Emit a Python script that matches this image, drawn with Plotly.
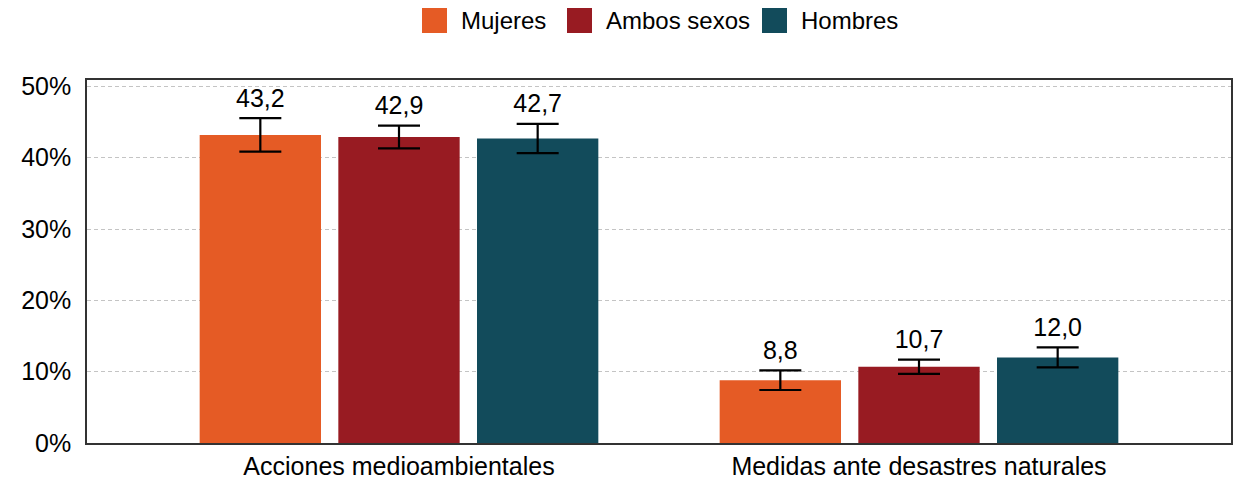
import plotly.graph_objects as go

categories = ["Acciones medioambientales", "Medidas ante desastres naturales"]
series_names = ["Mujeres", "Ambos sexos", "Hombres"]
colors = ["#E55B25", "#981B22", "#124B5B"]
values = {
    "Mujeres": [43.2, 8.8],
    "Ambos sexos": [42.9, 10.7],
    "Hombres": [42.7, 12.0],
}
errors = {
    "Mujeres": [2.35, 1.37],
    "Ambos sexos": [1.6, 1.0],
    "Hombres": [2.05, 1.4],
}
y_ticks = [0, 10, 20, 30, 40, 50]
y_tick_labels = ["0%", "10%", "20%", "30%", "40%", "50%"]

FONT = "Liberation Sans, Arial, sans-serif"
# page body has an 8px margin in the browser; size the figure to fit the window
OFF = 8
W, H = 1245 - OFF, 480 - OFF
L, R, T, B = 87 - OFF, 14, 80 - OFF, 37
PW, PH = W - L - R, H - T - B

fig = go.Figure()
for name, col in zip(series_names, colors):
    fig.add_trace(go.Bar(
        name=name, x=categories, y=values[name], marker_color=col,
        marker_line_width=0, offsetgroup=name, showlegend=False,
        error_y=dict(type="data", array=errors[name], color="black",
                     thickness=2.2, width=21),
    ))
for name in series_names:
    tops = [v + e for v, e in zip(values[name], errors[name])]
    fig.add_trace(go.Scatter(
        x=categories, y=tops, mode="markers+text", offsetgroup=name,
        marker=dict(size=7, opacity=0),
        text=[f"{v:.1f}".replace(".", ",") for v in values[name]],
        textposition="top center", textfont=dict(size=25, color="black", family=FONT),
        showlegend=False, hoverinfo="skip",
    ))

# custom legend (large squares like the reference); screen pixel positions
legend_left_px = [422, 567, 762]
for name, col, lx in zip(series_names, colors, legend_left_px):
    fig.add_shape(type="rect", xref="paper", yref="paper",
                  x0=(lx - 87) / PW, x1=(lx + 25 - 87) / PW,
                  y0=(443 - 33) / PH, y1=(443 - 8) / PH,
                  fillcolor=col, line=dict(width=0))
    fig.add_annotation(xref="paper", yref="paper", x=(lx + 37 - 87) / PW,
                       y=(443 - 20.5) / PH, xanchor="left", yanchor="middle",
                       text=name, showarrow=False,
                       font=dict(size=24, family=FONT, color="black"))

fig.update_layout(
    barmode="group", scattermode="group", bargap=0.2, bargroupgap=0.125,
    scattergap=0.2,
    width=W, height=H,
    margin=dict(l=L, r=R, t=T, b=B),
    plot_bgcolor="white", paper_bgcolor="white",
    font=dict(family=FONT, size=25, color="black"),
    showlegend=False,
    xaxis=dict(range=[-0.6, 1.6], showline=True, mirror=True, linecolor="#333",
               linewidth=1.6, ticks="", tickfont=dict(size=25), automargin=False,
               ticklabelstandoff=0),
    yaxis=dict(range=[0, 50.9], tickvals=y_ticks, ticktext=y_tick_labels,
               showgrid=True, gridcolor="#c4c4c4", griddash="4px,3px", gridwidth=1,
               showline=True, mirror=True, linecolor="#333", linewidth=1.6,
               ticks="", tickfont=dict(size=25), automargin=False,
               ticklabelstandoff=9, zeroline=False),
)
fig.write_html("out.html")
